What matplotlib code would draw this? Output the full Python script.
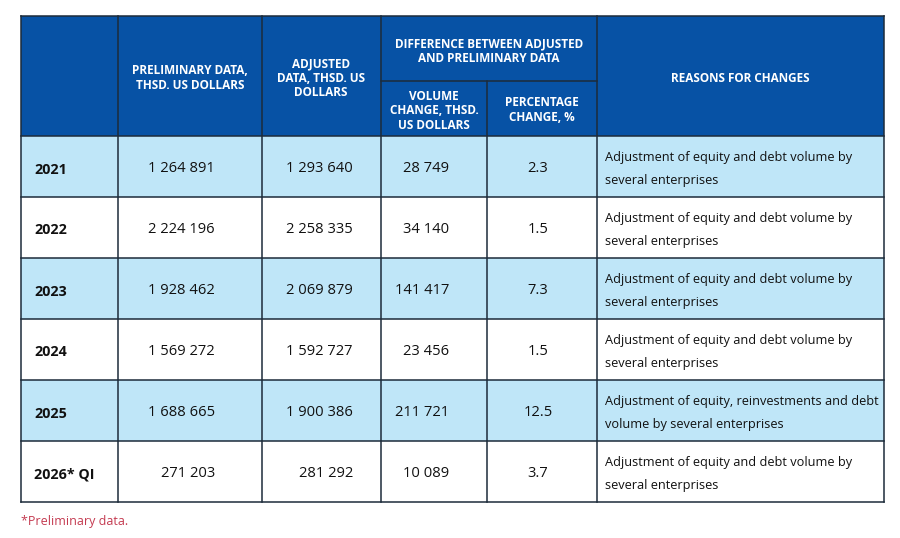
import matplotlib.pyplot as plt
from matplotlib.patches import Rectangle

plt.rcParams['font.family'] = ['Open Sans', 'DejaVu Sans']

# Table data
years = ['2021', '2022', '2023', '2024', '2025', '2026* QI']
preliminary = ['1 264 891', '2 224 196', '1 928 462', '1 569 272', '1 688 665', '271 203']
adjusted = ['1 293 640', '2 258 335', '2 069 879', '1 592 727', '1 900 386', '281 292']
volume_change = ['28 749', '34 140', '141 417', '23 456', '211 721', '10 089']
pct_change = ['2.3', '1.5', '7.3', '1.5', '12.5', '3.7']
reasons = [
    'Adjustment of equity and debt volume by\nseveral enterprises',
    'Adjustment of equity and debt volume by\nseveral enterprises',
    'Adjustment of equity and debt volume by\nseveral enterprises',
    'Adjustment of equity and debt volume by\nseveral enterprises',
    'Adjustment of equity, reinvestments and debt\nvolume by several enterprises',
    'Adjustment of equity and debt volume by\nseveral enterprises',
]
footnote = '*Preliminary data.'

header_blue = '#0752a5'
light_blue = '#bfe6f8'
border = '#1d2b3a'
text_col = '#111111'

# Layout in pixels
col_x = [21, 118, 262, 381, 487, 597, 884]
top, head_split, head_bot = 16, 81, 136
row_h = 61

fig = plt.figure(figsize=(9, 5.38), dpi=100)
ax = fig.add_axes([0, 0, 1, 1])
ax.set_xlim(0, 900)
ax.set_ylim(538, 0)
ax.axis('off')

# header background
ax.add_patch(Rectangle((col_x[0], top), col_x[-1] - col_x[0], head_bot - top,
                       facecolor=header_blue, edgecolor='none'))

# body rows
for i in range(len(years)):
    y0 = head_bot + i * row_h
    fc = light_blue if i % 2 == 0 else 'white'
    ax.add_patch(Rectangle((col_x[0], y0), col_x[-1] - col_x[0], row_h,
                           facecolor=fc, edgecolor='none'))
    yc = y0 + row_h / 2
    ax.text(34, yc + 3, years[i], ha='left', va='center', fontsize=10.3,
            fontweight='bold', color=text_col)
    ax.text(215, yc + 2, preliminary[i], ha='right', va='center', fontsize=10.6, color=text_col)
    ax.text(353, yc + 2, adjusted[i], ha='right', va='center', fontsize=10.6, color=text_col)
    ax.text(449, yc + 2, volume_change[i], ha='right', va='center', fontsize=10.6, color=text_col)
    ax.text(538, yc + 2, pct_change[i], ha='center', va='center', fontsize=10.6, color=text_col)
    ax.text(605, yc + 2.5, reasons[i], ha='left', va='center', fontsize=9.2,
            color=text_col, linespacing=1.95)

bottom = head_bot + len(years) * row_h

# grid lines
lw = 1.1
for x in col_x:
    if x == col_x[4]:
        ax.plot([x, x], [head_split, bottom], color=border, lw=lw)
    else:
        ax.plot([x, x], [top, bottom], color=border, lw=lw)
ax.plot([col_x[3], col_x[5]], [head_split, head_split], color=border, lw=lw)
ax.plot([col_x[0], col_x[-1]], [top, top], color=border, lw=lw)
for i in range(len(years) + 1):
    y = head_bot + i * row_h
    ax.plot([col_x[0], col_x[-1]], [y, y], color=border, lw=lw)

# header text
hkw = dict(ha='center', va='center', fontsize=8.5, fontweight='bold',
           color='white', linespacing=1.15)
ax.text(190, 78, 'PRELIMINARY DATA,\nTHSD. US DOLLARS', **hkw)
ax.text(321, 78, 'ADJUSTED\nDATA, THSD. US\nDOLLARS', **hkw)
ax.text(489, 51, 'DIFFERENCE BETWEEN ADJUSTED\nAND PRELIMINARY DATA', **hkw)
ax.text(434, 111, 'VOLUME\nCHANGE, THSD.\nUS DOLLARS', **hkw)
ax.text(542, 110, 'PERCENTAGE\nCHANGE, %', **hkw)
ax.text(740, 78, 'REASONS FOR CHANGES', **hkw)

ax.text(21, 521, footnote, ha='left', va='center', fontsize=9, color='#c43a50')

fig.savefig('out.png', dpi=100, facecolor='white')
